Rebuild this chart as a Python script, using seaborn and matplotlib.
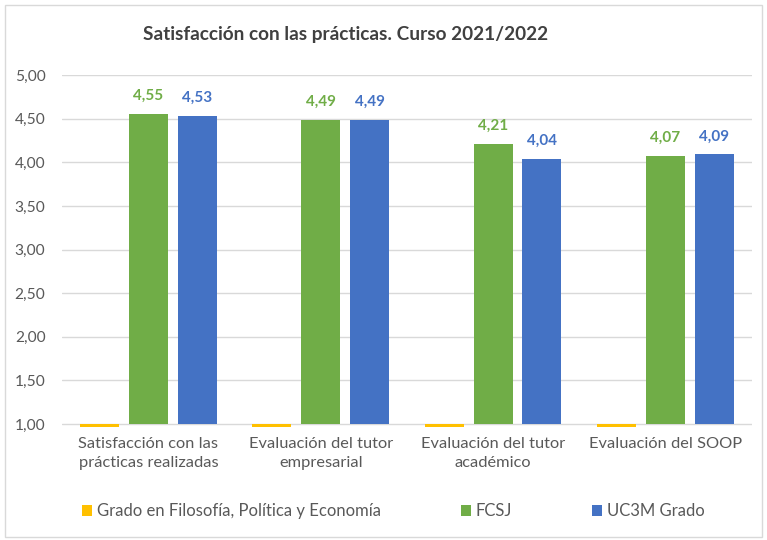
import matplotlib
matplotlib.use("Agg")
import matplotlib.pyplot as plt
import seaborn as sns
import pandas as pd
from matplotlib.patches import Rectangle
from matplotlib.ticker import FuncFormatter, MultipleLocator

categories = ["Satisfacción con las\nprácticas realizadas",
              "Evaluación del tutor\nempresarial",
              "Evaluación del tutor\nacadémico",
              "Evaluación del SOOP"]
series_names = ["Grado en Filosofía, Política y Economía", "FCSJ", "UC3M Grado"]
grado_vals = [0, 0, 0, 0]
fcsj_vals = [4.55, 4.49, 4.21, 4.07]
uc3m_vals = [4.53, 4.49, 4.04, 4.09]
colors = ["#FFC000", "#70AD47", "#4472C4"]

rows = []
for name, vals in zip(series_names, [grado_vals, fcsj_vals, uc3m_vals]):
    for c, v in zip(categories, vals):
        rows.append({"cat": c, "serie": name, "valor": v})
df = pd.DataFrame(rows)

sns.set_theme(style="white")
plt.rcParams["font.family"] = ["Lato", "DejaVu Sans"]

fig = plt.figure(figsize=(7.67, 5.4), dpi=100)
fig.patches.append(Rectangle((0.006, 0.006), 0.988, 0.984, transform=fig.transFigure,
                             fill=False, edgecolor="#D9D9D9", linewidth=1.0))
ax = fig.add_axes([0.081, 0.209, 0.899, 0.652])

sns.barplot(data=df, x="cat", y="valor", hue="serie", order=categories,
            hue_order=series_names, palette=colors, width=0.85, gap=0.2,
            ax=ax, saturation=1, legend=True, errorbar=None, linewidth=0)

# Bars originate at the axis crossing (1,00), as in the original chart
for cont, name in zip(ax.containers, series_names):
    for p, v in zip(cont.patches, df[df.serie == name]["valor"]):
        p.set_y(1.0)
        p.set_height(v - 1.0)
    if name != series_names[0]:
        col = colors[series_names.index(name)]
        for p, v in zip(cont.patches, df[df.serie == name]["valor"]):
            ax.annotate(f"{v:.2f}".replace(".", ","),
                        (p.get_x() + p.get_width() / 2, v),
                        xytext=(0, 8), textcoords="offset points",
                        ha="center", va="bottom", color=col,
                        fontsize=11, fontweight="bold")

ax.set_ylim(0.965, 5.0)
ax.yaxis.set_major_locator(MultipleLocator(0.5))
ax.yaxis.set_major_formatter(FuncFormatter(lambda v, p: f"{v:.2f}".replace(".", ",")))
ax.grid(axis="y", color="#D9D9D9", linewidth=1.0)
ax.set_axisbelow(True)
for s in ax.spines.values():
    s.set_visible(False)
ax.tick_params(axis="y", labelsize=11.2, labelcolor="#595959", length=0, pad=12)
ax.tick_params(axis="x", labelsize=11.8, labelcolor="#595959", length=0, pad=7)
for t in ax.get_xticklabels():
    t.set_linespacing(1.45)
ax.set_xlabel("")
ax.set_ylabel("")
ax.set_xlim(-0.5, 3.5)

fig.text(0.451, 0.937, "Satisfacción con las prácticas. Curso 2021/2022",
         ha="center", va="center", fontsize=13.7, fontweight="bold", color="#404040")

handles, labels = ax.get_legend_handles_labels()
ax.legend_.remove()
fig.legend(handles, labels, loc="center", bbox_to_anchor=(0.513, 0.053), ncol=3,
           frameon=False, fontsize=12, handlelength=0.6, handleheight=0.6,
           handletextpad=0.3, columnspacing=4.8, labelcolor="#595959")

fig.savefig("out.png", dpi=100)
